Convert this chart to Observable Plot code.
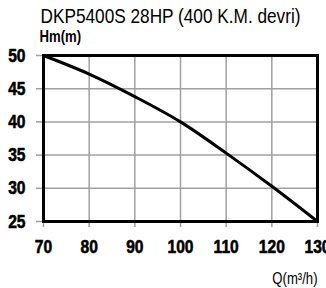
<!DOCTYPE html>
<html>
<head>
<meta charset="utf-8">
<script src="https://cdn.jsdelivr.net/npm/d3@7"></script>
<script src="https://cdn.jsdelivr.net/npm/@observablehq/plot@0.6"></script>
<style>
  html, body { margin: 0; padding: 0; background: #fff; }
  #chart svg { display: block; }
</style>
</head>
<body>
<div id="chart"></div>
<script>
const flow = [70, 80, 90, 100, 110, 120, 130];
const head = [50, 47.2, 43.8, 40, 35.3, 30.3, 25];
const xTicks = [70, 80, 90, 100, 110, 120, 130];
const yTicks = [25, 30, 35, 40, 45, 50];
const titleText = "DKP5400S 28HP (400 K.M. devri)";
const yLabel = "Hm(m)";
const xLabel = "Q(m³/h)";

const data = flow.map((q, i) => ({q, h: head[i]}));
const font = '"Liberation Sans", Arial, sans-serif';

const chart = Plot.plot({
  width: 326,
  height: 288,
  marginLeft: 43,
  marginRight: 9,
  marginTop: 55,
  marginBottom: 67,
  style: {fontFamily: font, color: "#000", background: "#fff", overflow: "visible"},
  x: {domain: [70, 130]},
  y: {domain: [25, 50]},
  marks: [
    Plot.ruleX(xTicks, {stroke: "#a0a0a0", strokeWidth: 1.5}),
    Plot.ruleY(yTicks, {stroke: "#a0a0a0", strokeWidth: 1.5}),
    Plot.axisY(yTicks, {tickSize: 7, stroke: "#a0a0a0", strokeWidth: 1.5, tickFormat: () => "", label: null}),
    Plot.axisX(xTicks, {tickSize: 6, stroke: "#a0a0a0", strokeWidth: 1.5, tickFormat: () => "", label: null}),
    Plot.text(yTicks, {y: d => d, frameAnchor: "left", dx: -18, textAnchor: "end", fontSize: 19, fontWeight: "bold", fill: "#000", stroke: "#000", strokeWidth: 0.6}),
    Plot.text(xTicks, {x: d => d, frameAnchor: "bottom", dy: 25, fontSize: 19, fontWeight: "bold", fill: "#000", stroke: "#000", strokeWidth: 0.6, lineAnchor: "middle"}),
    Plot.line(data, {x: "q", y: "h", curve: "monotone-x", stroke: "#000", strokeWidth: 3}),
    Plot.frame({stroke: "#000", strokeWidth: 3}),
    Plot.text([titleText], {frameAnchor: "top", dx: -10, dy: -47, fontSize: 21, fill: "#000", textAnchor: "middle"}),
    Plot.text([yLabel], {frameAnchor: "top-left", dx: -4, dy: -25, fontSize: 16, fontWeight: "bold", fill: "#000", textAnchor: "start"}),
    Plot.text([xLabel], {frameAnchor: "bottom-right", dx: 0, dy: 62, fontSize: 16, fill: "#000", textAnchor: "end"})
  ]
});
document.getElementById("chart").appendChild(chart);

// condense glyphs horizontally to mimic a narrow typeface
d3.select(chart).selectAll("text").each(function() {
  const len = this.getComputedTextLength();
  if (len > 0) {
    this.setAttribute("textLength", (len * 0.82).toFixed(2));
    this.setAttribute("lengthAdjust", "spacingAndGlyphs");
  }
});
</script>
</body>
</html>
